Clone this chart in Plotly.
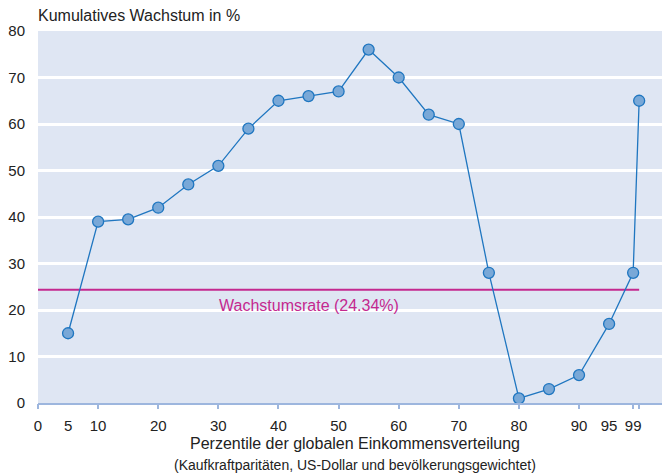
import plotly.graph_objects as go

percentiles = [5, 10, 15, 20, 25, 30, 35, 40, 45, 50, 55, 60, 65, 70, 75, 80, 85, 90, 95, 99, 100]
growth = [15, 39, 39.5, 42, 47, 51, 59, 65, 66, 67, 76, 70, 62, 60, 28, 1, 3, 6, 17, 28, 65]
avg_rate = 24.34
avg_span = [0, 100]
x_labels = [0, 5, 10, 20, 30, 40, 50, 60, 70, 80, 90, 95, 99]
x_tickmarks = [0, 10, 20, 30, 40, 50, 60, 70, 80, 90, 99, 100]
y_ticks = [0, 10, 20, 30, 40, 50, 60, 70, 80]

BLUE = "#1f76c0"
FILL = "#79a8d7"
MAG = "#c4288f"
FONT = "Liberation Sans, Arial, sans-serif"

fig = go.Figure()
fig.add_trace(go.Scatter(
    x=avg_span, y=[avg_rate, avg_rate], mode="lines",
    line=dict(color=MAG, width=2), hoverinfo="skip", showlegend=False))
fig.add_trace(go.Scatter(
    x=percentiles, y=growth, mode="lines+markers",
    line=dict(color=BLUE, width=1.3),
    marker=dict(size=11, color=FILL, line=dict(color=BLUE, width=1.3)),
    showlegend=False))
# invisible trace for tick-mark axis
fig.add_trace(go.Scatter(x=[0], y=[0], xaxis="x2", mode="markers",
                         marker=dict(opacity=0), hoverinfo="skip", showlegend=False))

fig.add_annotation(x=45, y=21, xref="x", yref="y",
                   text=f"Wachstumsrate ({avg_rate:.2f}%)",
                   showarrow=False, font=dict(color=MAG, size=16, family=FONT))
fig.add_annotation(x=0, y=1, xref="paper", yref="paper", xanchor="left", yanchor="bottom",
                   yshift=5, xshift=-2, text="Kumulatives Wachstum in %", showarrow=False,
                   font=dict(color="#222", size=16, family=FONT))
fig.add_annotation(x=0.508, y=0, xref="paper", yref="paper", xanchor="center", yanchor="top",
                   yshift=-30, text="Perzentile der globalen Einkommensverteilung", showarrow=False,
                   font=dict(color="#222", size=16, family=FONT))
fig.add_annotation(x=0.508, y=0, xref="paper", yref="paper", xanchor="center", yanchor="top",
                   yshift=-52, text="(Kaufkraftparitäten, US-Dollar und bevölkerungsgewichtet)",
                   showarrow=False, font=dict(color="#222", size=14, family=FONT))

fig.update_layout(
    width=664, height=475,
    margin=dict(l=38, r=2, t=31, b=72),
    paper_bgcolor="white", plot_bgcolor="#dfe6f3",
    font=dict(family=FONT, size=15, color="#222"),
    xaxis=dict(range=[0, 103.8], tickvals=x_labels, ticktext=[str(v) for v in x_labels],
               ticks="", showgrid=False, zeroline=False, showline=True,
               linecolor="#9db6de", linewidth=1.5, ticklabelstandoff=8),
    xaxis2=dict(range=[0, 103.8], overlaying="x", anchor="y", side="bottom",
                tickvals=x_tickmarks, showticklabels=False, ticks="outside", ticklen=5,
                tickcolor="#9db6de", tickwidth=1.5, showgrid=False, zeroline=False,
                showline=False),
    yaxis=dict(range=[0, 80], tickvals=y_ticks, showgrid=True, gridcolor="white",
               gridwidth=3, zeroline=False, ticks="", ticklabelstandoff=12),
)
fig.write_html("out.html", config={"displayModeBar": False},
               post_script="document.body.style.margin='0';document.body.style.padding='0';")
